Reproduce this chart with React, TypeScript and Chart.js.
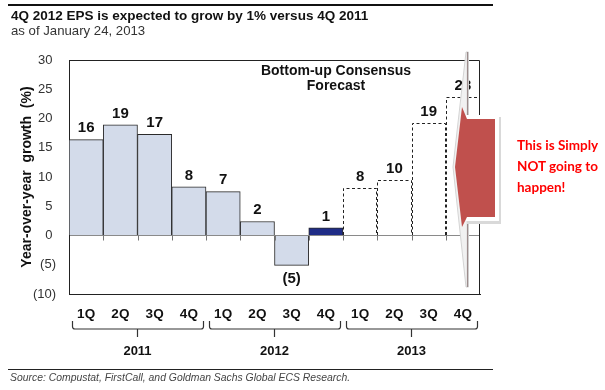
import React, { useEffect, useRef } from 'react';
import { Chart, registerables } from 'chart.js';

Chart.register(...registerables);

const FONT = '"Liberation Sans", Arial, Helvetica, sans-serif';

const QUARTERS = ['1Q', '2Q', '3Q', '4Q', '1Q', '2Q', '3Q', '4Q', '1Q', '2Q', '3Q', '4Q'];
const YEARS = ['2011', '2012', '2013'];
const ACTUAL = [16.4, 18.9, 17.3, 8.3, 7.5, 2.4, -5.1, 1.3, null, null, null, null];
const FORECAST = [null, null, null, null, null, null, null, null, 8.1, 9.5, 19.2, 23.6];
const BAR_LABELS = ['16', '19', '17', '8', '7', '2', '(5)', '1', '8', '10', '19', '23'];
const Y_MIN = -10;
const Y_MAX = 30;
const Y_STEP = 5;

const ACTUAL_FILL = '#d3dbea';
const LATEST_FILL = '#1f2c86';
const LATEST_INDEX = 7;

const decorPlugin = {
  id: 'decor',
  afterDatasetsDraw(chart: any) {
    const ctx = chart.ctx as CanvasRenderingContext2D;
    const { left, right, top, bottom } = chart.chartArea;
    const xs = chart.scales.x;
    const ys = chart.scales.y;
    const step = xs.getPixelForValue(1) - xs.getPixelForValue(0);
    const zeroY = ys.getPixelForValue(0);

    // dashed outlines for forecast bars
    const fMeta = chart.getDatasetMeta(1);
    ctx.save();
    ctx.setLineDash([3, 2.5]);
    ctx.strokeStyle = '#222';
    ctx.lineWidth = 1;
    fMeta.data.forEach((el: any, i: number) => {
      if (FORECAST[i] == null) return;
      const p = el.getProps(['x', 'y', 'base', 'width'], true);
      const l = Math.round(p.x - p.width / 2) + 0.5;
      const r = Math.round(p.x + p.width / 2) - 0.5;
      const t = Math.round(p.y) + 0.5;
      ctx.beginPath();
      ctx.moveTo(l, p.base);
      ctx.lineTo(l, t);
      ctx.lineTo(r, t);
      ctx.lineTo(r, p.base);
      ctx.stroke();
    });
    ctx.restore();

    // frame top & right
    ctx.save();
    ctx.strokeStyle = '#222';
    ctx.lineWidth = 1;
    ctx.beginPath();
    ctx.moveTo(left, Math.round(top) + 0.5);
    ctx.lineTo(Math.round(right) - 0.5, Math.round(top) + 0.5);
    ctx.lineTo(Math.round(right) - 0.5, bottom);
    ctx.stroke();

    // small ticks under the zero line at category boundaries
    ctx.strokeStyle = '#777';
    ctx.beginPath();
    const start = xs.getPixelForValue(0) - step / 2;
    for (let i = 1; i < QUARTERS.length; i++) {
      const bx = Math.round(start + i * step) + 0.5;
      ctx.moveTo(bx, zeroY);
      ctx.lineTo(bx, zeroY + 5);
    }
    ctx.stroke();

    // value labels
    ctx.fillStyle = '#111';
    ctx.font = `bold 15px ${FONT}`;
    ctx.textAlign = 'center';
    [0, 1].forEach((di) => {
      const meta = chart.getDatasetMeta(di);
      const src = di === 0 ? ACTUAL : FORECAST;
      meta.data.forEach((el: any, i: number) => {
        const v = src[i];
        if (v == null) return;
        const p = el.getProps(['x', 'y'], true);
        if (v >= 0) {
          ctx.textBaseline = 'bottom';
          ctx.fillText(BAR_LABELS[i], p.x, p.y - 4);
        } else {
          ctx.textBaseline = 'top';
          ctx.fillText(BAR_LABELS[i], p.x, p.y + 6);
        }
      });
    });
    ctx.restore();
  },
  afterDraw(chart: any) {
    const ctx = chart.ctx as CanvasRenderingContext2D;
    const xs = chart.scales.x;
    const step = xs.getPixelForValue(1) - xs.getPixelForValue(0);

    // braces and year labels
    ctx.save();
    ctx.strokeStyle = '#333';
    ctx.lineWidth = 1.2;
    ctx.fillStyle = '#111';
    ctx.font = `bold 13px ${FONT}`;
    ctx.textAlign = 'center';
    ctx.textBaseline = 'middle';
    YEARS.forEach((yr, g) => {
      const s = xs.getPixelForValue(g * 4) - step / 2;
      const e = xs.getPixelForValue(g * 4 + 3) + step / 2;
      const x0 = s + 3.5;
      const x1 = e - 2.5;
      const xc = (s + e) / 2;
      ctx.beginPath();
      ctx.moveTo(x0, 321);
      ctx.lineTo(x0, 326.5);
      ctx.quadraticCurveTo(x0, 329, x0 + 2.5, 329);
      ctx.lineTo(x1 - 2.5, 329);
      ctx.quadraticCurveTo(x1, 329, x1, 326.5);
      ctx.lineTo(x1, 321);
      ctx.moveTo(xc, 329);
      ctx.lineTo(xc, 337);
      ctx.stroke();
      ctx.fillText(yr, xc, 351);
    });
    ctx.restore();

    // annotation arrow
    ctx.save();
    ctx.beginPath();
    ctx.moveTo(466, 52);
    ctx.lineTo(453, 167);
    ctx.lineTo(466, 287);
    ctx.lineTo(468.5, 287);
    ctx.lineTo(468.5, 52);
    ctx.closePath();
    ctx.fillStyle = '#f1f1f1';
    ctx.fill();
    ctx.strokeStyle = '#d4d4d4';
    ctx.lineWidth = 1;
    ctx.stroke();
    ctx.beginPath();
    ctx.moveTo(467.5, 52);
    ctx.lineTo(467.5, 287);
    ctx.strokeStyle = '#9c8c8c';
    ctx.lineWidth = 1.2;
    ctx.stroke();
    // shaft border / shadow
    ctx.fillStyle = '#d9d9d9';
    ctx.fillRect(467, 117, 34, 107);
    ctx.fillStyle = '#ffffff';
    ctx.fillRect(466, 115, 33, 106);
    // red body
    ctx.beginPath();
    ctx.moveTo(462, 107);
    ctx.lineTo(467, 119);
    ctx.lineTo(495, 119);
    ctx.lineTo(495, 217);
    ctx.lineTo(467, 217);
    ctx.lineTo(462, 227);
    ctx.lineTo(455, 167);
    ctx.closePath();
    ctx.fillStyle = '#c0504d';
    ctx.fill();
    ctx.restore();
  },
};

export default function App() {
  const ref = useRef<HTMLCanvasElement>(null);

  useEffect(() => {
    const canvas = ref.current;
    if (!canvas) return;
    Chart.defaults.font.family = FONT;
    const chart = new Chart(canvas, {
      type: 'bar',
      data: {
        labels: QUARTERS,
        datasets: [
          {
            label: 'Actual',
            data: ACTUAL as any,
            backgroundColor: (c: any) => (c.dataIndex === LATEST_INDEX ? LATEST_FILL : ACTUAL_FILL),
            borderColor: '#2a2a2a',
            borderWidth: 1,
            categoryPercentage: 1,
            barPercentage: 1,
            grouped: false,
          } as any,
          {
            label: 'Forecast',
            data: FORECAST as any,
            backgroundColor: 'rgba(255,255,255,0)',
            borderWidth: 0,
            categoryPercentage: 1,
            barPercentage: 1,
            grouped: false,
          } as any,
        ],
      },
      options: {
        responsive: false,
        animation: false,
        devicePixelRatio: 1,
        layout: { padding: { left: 19, right: 125, top: 60, bottom: 0 } },
        plugins: {
          legend: { display: false },
          tooltip: { enabled: false },
          title: { display: false },
        },
        scales: {
          x: {
            grid: { display: true, drawTicks: false, color: 'rgba(0,0,0,0)' },
            border: { display: true, color: '#222', width: 1 },
            ticks: {
              color: '#111',
              font: { size: 13.5, weight: 'bold', family: FONT },
              padding: 12,
              maxRotation: 0,
              autoSkip: false,
            },
            afterFit: (s: any) => {
              s.height = 96;
            },
          },
          y: {
            min: Y_MIN,
            max: Y_MAX,
            grid: {
              drawTicks: false,
              color: (c: any) => (c.tick && c.tick.value === 0 ? '#8a8a8a' : 'rgba(0,0,0,0)'),
              lineWidth: 1,
            },
            border: { display: true, color: '#222', width: 1 },
            ticks: {
              stepSize: Y_STEP,
              color: '#333',
              font: { size: 13, family: FONT },
              padding: 13,
              callback: (v: any) => (Number(v) < 0 ? `(${-Number(v)})` : `${v} `),
            },
            title: {
              display: true,
              text: 'Year-over-year  growth  (%)',
              color: '#111',
              font: { size: 14, weight: 'bold', family: FONT },
              padding: 0,
            },
            afterFit: (s: any) => {
              s.width = 50;
            },
          },
        },
      } as any,
      plugins: [decorPlugin],
    });
    return () => chart.destroy();
  }, []);

  return (
    <div
      style={{
        position: 'fixed',
        left: 0,
        top: 0,
        width: 605,
        height: 390,
        background: '#fff',
        fontFamily: FONT,
        overflow: 'hidden',
      }}
    >
      <canvas
        ref={ref}
        width={605}
        height={390}
        style={{ position: 'absolute', left: 0, top: 0, width: 605, height: 390 }}
      />
      <div style={{ position: 'absolute', left: 8, top: 4, width: 485, height: 2, background: '#111' }} />
      <div
        style={{
          position: 'absolute',
          left: 11,
          top: 8,
          fontSize: 13.5,
          fontWeight: 'bold',
          lineHeight: '15px',
          color: '#111',
          whiteSpace: 'nowrap',
        }}
      >
        4Q 2012 EPS is expected to grow by 1% versus 4Q 2011
      </div>
      <div
        style={{
          position: 'absolute',
          left: 11,
          top: 23,
          fontSize: 13.2,
          lineHeight: '15px',
          color: '#333',
          whiteSpace: 'nowrap',
        }}
      >
        as of January 24, 2013
      </div>
      <div
        style={{
          position: 'absolute',
          left: 236,
          top: 63,
          width: 200,
          textAlign: 'center',
          fontSize: 14,
          fontWeight: 'bold',
          lineHeight: '15px',
          color: '#111',
        }}
      >
        Bottom-up Consensus
        <br />
        Forecast
      </div>
      <div
        style={{
          position: 'absolute',
          left: 517,
          top: 135,
          width: 90,
          fontFamily: 'Lato, "Open Sans", sans-serif',
          fontSize: 13.5,
          fontWeight: 'bold',
          lineHeight: '21px',
          color: '#ff0000',
        }}
      >
        This is Simply
        <br />
        NOT going to
        <br />
        happen!
      </div>
      <div style={{ position: 'absolute', left: 8, top: 369, width: 485, height: 1, background: '#222' }} />
      <div
        style={{
          position: 'absolute',
          left: 10,
          top: 372,
          fontSize: 10.4,
          fontStyle: 'italic',
          lineHeight: '12px',
          color: '#444',
          whiteSpace: 'nowrap',
        }}
      >
        Source: Compustat, FirstCall, and Goldman Sachs Global ECS Research.
      </div>
    </div>
  );
}
